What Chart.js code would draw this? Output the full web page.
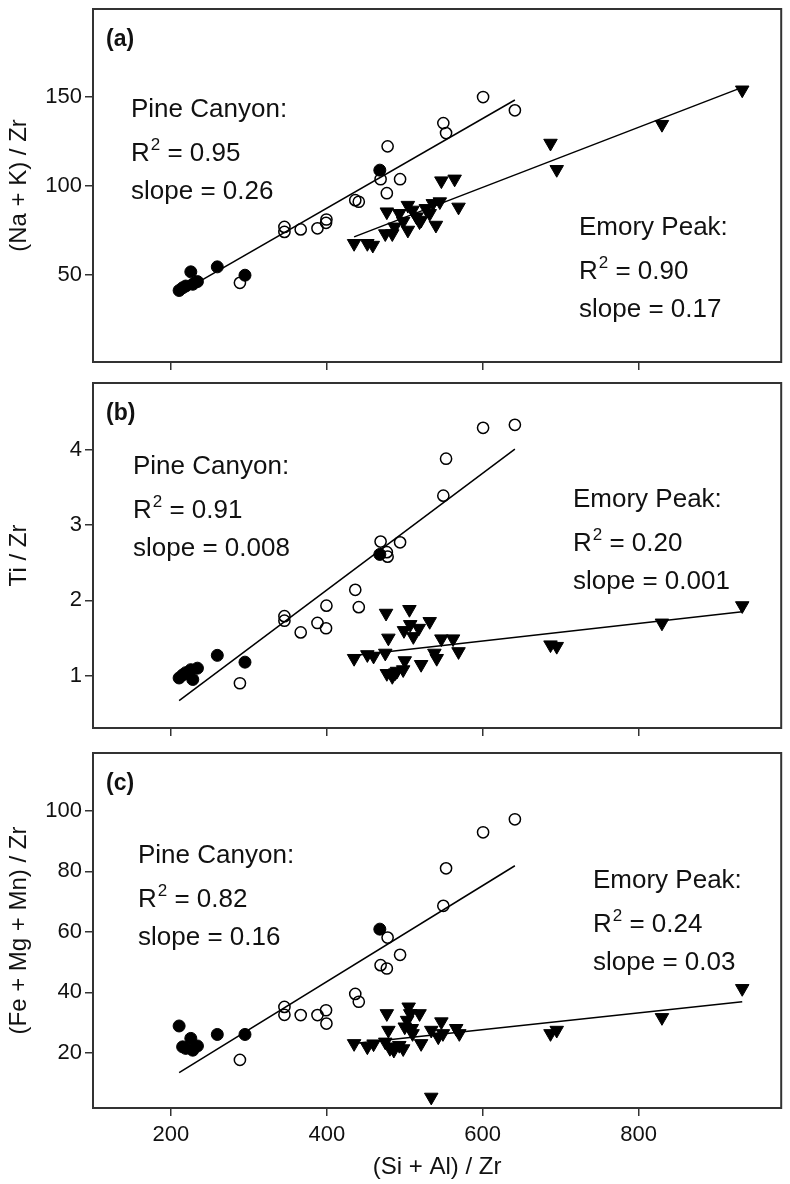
<!DOCTYPE html>
<html lang="en">
<head>
<meta charset="UTF-8" />
<title>Pine Canyon vs Emory Peak</title>
<script src="https://cdn.jsdelivr.net/npm/chart.js"></script>
<style>
  body { margin: 0; background: #fff; }
  .page { position: relative; width: 790px; height: 1184px; overflow: hidden; }
  .page canvas { position: absolute; left: 0; }
</style>
</head>
<body>
<div class="page">
  <canvas id="panelA" width="790" height="400" style="top:-20px"></canvas>
  <canvas id="panelB" width="790" height="400" style="top:350px"></canvas>
  <canvas id="panelC" width="790" height="464" style="top:720px"></canvas>
</div>

<script>
// ---- data ----
const xTicks = [200, 400, 600, 800];
const yTicksA = [50, 100, 150];
const yTicksB = [1, 2, 3, 4];
const yTicksC = [20, 40, 60, 80, 100];

// Pine Canyon, filled circles
const pineFilledX = [210.5, 215, 219, 225.5, 228, 234, 259.5, 295, 468];
const pineFilledA = [41, 42.5, 43.5, 51.5, 44.5, 46, 54.3, 49.6, 108.8];
const pineFilledB = [0.97, 1.01, 1.04, 1.08, 0.95, 1.10, 1.27, 1.18, 2.61];
const pineFilledC = [28.9, 22, 21.5, 24.8, 20.9, 22.3, 26.1, 26.1, 60.9];

// Pine Canyon, open circles
const pineOpenX = [288.5, 345.6, 345.6, 366.5, 388, 399, 399.5, 436.5, 441, 469, 477, 478, 494, 549.5, 553, 600.5, 641.3];
const pineOpenA = [45.3, 74, 76.8, 75.4, 76, 79.1, 81, 91.9, 91, 103.7, 95.8, 122.2, 103.7, 135.3, 129.7, 150, 142.5];
const pineOpenB = [0.90, 1.73, 1.79, 1.575, 1.70, 1.63, 1.93, 2.14, 1.91, 2.78, 2.64, 2.58, 2.77, 3.39, 3.88, 4.29, 4.33];
const pineOpenC = [17.7, 32.6, 35.2, 32.5, 32.5, 34.1, 29.7, 39.5, 36.9, 49, 47.9, 58.1, 52.4, 68.6, 81, 92.9, 97.2];

// Emory Peak, triangles
const emoryXA = [435, 452, 459, 475, 477, 484, 487, 493, 498, 504, 504, 510, 515, 519, 521, 527, 532, 536, 540, 545, 547, 564, 569, 687, 695, 830, 933];
const emoryYA = [67.5, 67.5, 66.5, 73, 85.3, 73, 76.8, 84.4, 80, 75, 89, 86.3, 82.5, 79.7, 80.6, 87.2, 84.4, 90, 77.8, 91, 102.8, 103.8, 88, 124, 109.2, 134.6, 154];
const emoryXB = [435, 452, 460, 475, 476, 479, 477, 484, 488, 490, 498, 500, 499, 506, 507, 511, 518, 521, 532, 538, 541, 547, 562, 569, 687, 695, 830, 933];
const emoryYB = [1.23, 1.28, 1.26, 1.30, 1.83, 1.50, 1.03, 0.99, 1.04, 1.06, 1.08, 1.20, 1.60, 1.88, 1.68, 1.52, 1.63, 1.15, 1.72, 1.30, 1.23, 1.49, 1.49, 1.32, 1.41, 1.39, 1.70, 1.93];
const emoryXC = [435, 452, 460, 475, 477, 479, 481, 484, 486, 493, 498, 500, 503, 505, 507, 509, 510, 519, 521, 534, 534, 543, 547, 549, 566, 570, 687, 695, 830, 933];
const emoryYC = [23.1, 22, 23, 23.6, 33, 27.5, 21.5, 22, 20.9, 22.5, 21.4, 28.6, 30.8, 35.2, 33, 28.1, 26.4, 33, 23.1, 27.5, 5.4, 25.3, 30.3, 26.4, 28.1, 26.4, 26.4, 27.5, 31.7, 41.3];

// fitted lines [intercept, slope]
const pineFitA = [-13.6, 0.2525];
const emoryFitA = [-2.35, 0.1691];
const pineFitB = [-0.963, 0.00775];
const emoryFitB = [0.763, 0.001165];
const pineFitC = [-19.96, 0.15875];
const emoryFitC = [11.04, 0.02772];

// annotation values [R2, slope]
const pineStatsA = ['0.95', '0.26'];
const emoryStatsA = ['0.90', '0.17'];
const pineStatsB = ['0.91', '0.008'];
const emoryStatsB = ['0.20', '0.001'];
const pineStatsC = ['0.82', '0.16'];
const emoryStatsC = ['0.24', '0.03'];

// ---- drawing ----
const FONT = '"Liberation Sans", Arial, Helvetica, sans-serif';
Chart.defaults.font.family = FONT;
Chart.defaults.color = '#111';

const pts = (xs, ys) => xs.map((x, i) => ({ x: x, y: ys[i] }));
const fitLine = (fit, xs) => {
  const lo = Math.min(...xs), hi = Math.max(...xs);
  return [{ x: lo, y: fit[0] + fit[1] * lo }, { x: hi, y: fit[0] + fit[1] * hi }];
};

function drawStats(ctx, x, y, title, stats) {
  const big = '26px ' + FONT, small = '17px ' + FONT;
  ctx.font = big;
  ctx.fillText(title, x, y);
  ctx.fillText('R', x, y + 44);
  const wr = ctx.measureText('R').width;
  ctx.font = small;
  ctx.fillText('2', x + wr + 1, y + 44 - 11);
  const w2 = ctx.measureText('2').width;
  ctx.font = big;
  ctx.fillText(' = ' + stats[0], x + wr + w2 + 1, y + 44);
  ctx.fillText('slope = ' + stats[1], x, y + 82);
}

const framePlugin = {
  id: 'frame',
  afterDraw(chart, args, opts) {
    const { ctx, chartArea: a } = chart;
    ctx.save();
    ctx.strokeStyle = '#333';
    ctx.lineWidth = 2;
    ctx.strokeRect(a.left, a.top, a.right - a.left, a.bottom - a.top);
    ctx.fillStyle = '#111';
    ctx.textBaseline = 'alphabetic';
    ctx.textAlign = 'left';
    ctx.font = 'bold 23px ' + FONT;
    ctx.fillText(opts.label, a.left + 13, a.top + 37);
    drawStats(ctx, a.left + opts.pineAt[0], a.top + opts.pineAt[1], 'Pine Canyon:', opts.pineStats);
    drawStats(ctx, a.left + opts.emoryAt[0], a.top + opts.emoryAt[1], 'Emory Peak:', opts.emoryStats);
    ctx.restore();
  }
};

function makePanel(id, cfg) {
  const last = cfg.showX;
  new Chart(document.getElementById(id), {
    type: 'scatter',
    data: {
      datasets: [
        {
          data: fitLine(cfg.pineFit, pineFilledX.concat(pineOpenX)),
          showLine: true, borderColor: '#000', borderWidth: 1.5, pointRadius: 0
        },
        {
          data: fitLine(cfg.emoryFit, cfg.emoryX),
          showLine: true, borderColor: '#000', borderWidth: 1.5, pointRadius: 0
        },
        {
          data: pts(pineOpenX, cfg.open),
          pointStyle: 'circle', pointRadius: 5.6,
          backgroundColor: 'rgba(0,0,0,0)', borderColor: '#000', borderWidth: 1.5
        },
        {
          data: pts(pineFilledX, cfg.filled),
          pointStyle: 'circle', pointRadius: 6,
          backgroundColor: '#000', borderColor: '#000', borderWidth: 1
        },
        {
          data: pts(cfg.emoryX, cfg.emoryY),
          pointStyle: 'triangle', pointRotation: 180, pointRadius: 7.8,
          backgroundColor: '#000', borderColor: '#000', borderWidth: 1
        }
      ]
    },
    options: {
      responsive: false,
      animation: false,
      devicePixelRatio: 1,
      layout: { padding: { top: cfg.padTop, right: 2, left: 0, bottom: 0 } },
      plugins: {
        legend: { display: false },
        tooltip: { enabled: false },
        frame: {
          label: cfg.label,
          pineAt: cfg.pineAt, emoryAt: cfg.emoryAt,
          pineStats: cfg.pineStats, emoryStats: cfg.emoryStats
        }
      },
      scales: {
        x: {
          type: 'linear', position: 'bottom', min: 100, max: 983,
          afterBuildTicks: s => { s.ticks = xTicks.map(v => ({ value: v })); },
          afterFit: s => { s.height = cfg.xHeight; },
          border: { display: false },
          grid: { drawOnChartArea: false, drawTicks: true, tickLength: 8, color: '#333', lineWidth: 1.5 },
          ticks: { display: last, padding: 6, font: { size: 22 }, color: '#111' },
          title: {
            display: last, text: '(Si + Al) / Zr',
            font: { size: 24 }, color: '#111', padding: { top: 0, bottom: 2 }
          }
        },
        y: {
          type: 'linear', position: 'left', min: cfg.yMin, max: cfg.yMax,
          afterBuildTicks: s => { s.ticks = cfg.yTicks.map(v => ({ value: v })); },
          afterFit: s => { s.width = 93; },
          border: { display: false },
          grid: { drawOnChartArea: false, drawTicks: true, tickLength: 8, color: '#333', lineWidth: 1.5 },
          ticks: { padding: 3, font: { size: 22 }, color: '#111' },
          title: {
            display: true, text: cfg.yTitle,
            font: { size: 24 }, color: '#111', padding: { top: 5, bottom: 0 }
          }
        }
      }
    },
    plugins: [framePlugin]
  });
}

makePanel('panelA', {
  label: '(a)', yTitle: '(Na + K) / Zr', yMin: 0.7, yMax: 199.6, yTicks: yTicksA,
  filled: pineFilledA, open: pineOpenA, emoryX: emoryXA, emoryY: emoryYA,
  pineFit: pineFitA, emoryFit: emoryFitA, pineStats: pineStatsA, emoryStats: emoryStatsA,
  pineAt: [38, 108], emoryAt: [486, 226],
  padTop: 29, xHeight: 18, showX: false
});

makePanel('panelB', {
  label: '(b)', yTitle: 'Ti / Zr', yMin: 0.306, yMax: 4.885, yTicks: yTicksB,
  filled: pineFilledB, open: pineOpenB, emoryX: emoryXB, emoryY: emoryYB,
  pineFit: pineFitB, emoryFit: emoryFitB, pineStats: pineStatsB, emoryStats: emoryStatsB,
  pineAt: [40, 91], emoryAt: [480, 124],
  padTop: 33, xHeight: 22, showX: false
});

makePanel('panelC', {
  label: '(c)', yTitle: '(Fe + Mg + Mn) / Zr', yMin: 1.8, yMax: 119.1, yTicks: yTicksC,
  filled: pineFilledC, open: pineOpenC, emoryX: emoryXC, emoryY: emoryYC,
  pineFit: pineFitC, emoryFit: emoryFitC, pineStats: pineStatsC, emoryStats: emoryStatsC,
  pineAt: [45, 110], emoryAt: [500, 135],
  padTop: 33, xHeight: 76, showX: true
});
</script>
</body>
</html>
